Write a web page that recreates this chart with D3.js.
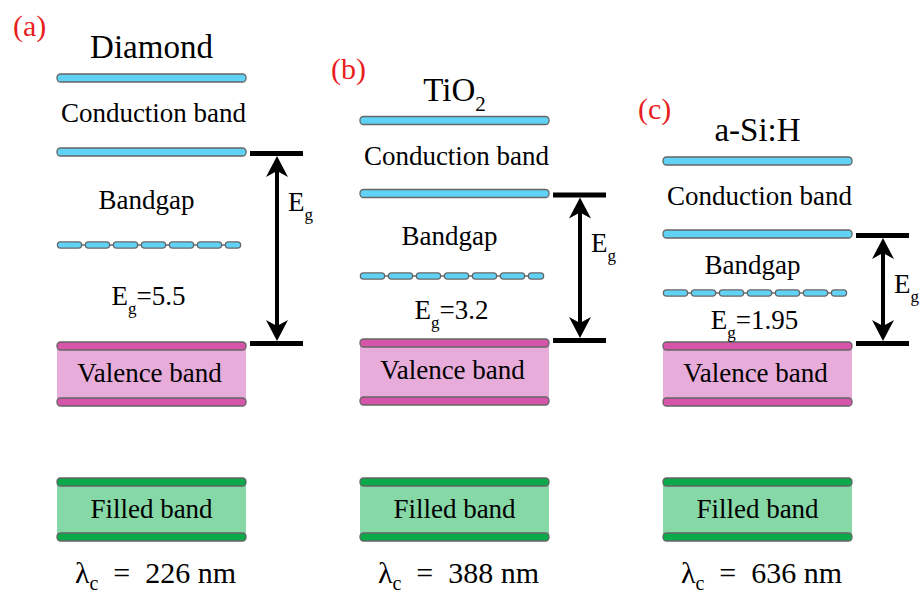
<!DOCTYPE html>
<html>
<head>
<meta charset="utf-8">
<script src="https://cdn.jsdelivr.net/npm/d3@7"></script>
<style>
  body { margin: 0; background: #fff; }
</style>
</head>
<body>
<div id="chart"></div>
<script>
const panelLabels = ["(a)", "(b)", "(c)"];
const materials = ["Diamond", "TiO", "a-Si:H"];
const materialSubs = ["", "2", ""];
const bandgapEV = ["5.5", "3.2", "1.95"];
const cutoffNm = [226, 388, 636];
// level positions on a schematic energy axis (arbitrary units, valence edge ~ 0)
const cbTop = [26.6, 22.35, 18.3];
const cbEdge = [19.2, 15.05, 11.0];
const gapLevel = [9.9, 6.8, 5.1];
const vbEdge = [-0.2, 0.1, -0.2];
const vbBottom = [-5.8, -5.7, -5.8];
const fbTop = [-13.8, -13.8, -13.8];
const fbBottom = [-19.3, -19.3, -19.3];

const width = 921, height = 593;
const font = "'Liberation Serif', 'Times New Roman', serif";
const barW = 189, barH = 8;

const x = d3.scaleBand().domain(d3.range(3)).range([57, 57 + 3 * 303]).paddingInner(0);
const y = d3.scaleLinear().domain([0, 10]).range([344, 244]);

const svg = d3.select("#chart").append("svg")
  .attr("width", width)
  .attr("height", height)
  .attr("font-family", font);

const panels = d3.range(3).map(i => ({
  i,
  label: panelLabels[i],
  material: materials[i],
  sub: materialSubs[i],
  eg: bandgapEV[i],
  lc: cutoffNm[i],
  cbTop: cbTop[i], cbEdge: cbEdge[i], gap: gapLevel[i],
  vbEdge: vbEdge[i], vbBottom: vbBottom[i],
  fbTop: fbTop[i], fbBottom: fbBottom[i]
}));

const g = svg.selectAll("g.panel")
  .data(panels)
  .join("g")
  .attr("class", "panel")
  .attr("transform", d => `translate(${x(d.i)},0)`);

const cx = barW / 2;

// filled band areas
g.append("rect")
  .attr("x", 0).attr("width", barW)
  .attr("y", d => y(d.vbEdge)).attr("height", d => y(d.vbBottom) - y(d.vbEdge))
  .attr("fill", "#e8acda");
g.append("rect")
  .attr("x", 0).attr("width", barW)
  .attr("y", d => y(d.fbTop)).attr("height", d => y(d.fbBottom) - y(d.fbTop))
  .attr("fill", "#86d8a7");

function bar(sel, level, fill) {
  sel.append("rect")
    .attr("x", 0).attr("width", barW)
    .attr("y", d => y(d[level]) - barH / 2).attr("height", barH)
    .attr("rx", 3.5)
    .attr("fill", fill)
    .attr("stroke", "#666")
    .attr("stroke-width", 1.3);
}
bar(g, "cbTop", "#5fd2f5");
bar(g, "cbEdge", "#5fd2f5");
bar(g, "vbEdge", "#d655aa");
bar(g, "vbBottom", "#d655aa");
bar(g, "fbTop", "#0aaa4b");
bar(g, "fbBottom", "#0aaa4b");

// dashed mid-gap level
g.append("line")
  .attr("x1", 3).attr("x2", 181)
  .attr("y1", d => y(d.gap)).attr("y2", d => y(d.gap))
  .attr("stroke", "#666").attr("stroke-width", 1.5);
g.append("line")
  .attr("x1", 3.5).attr("x2", 180.5)
  .attr("y1", d => y(d.gap)).attr("y2", d => y(d.gap))
  .attr("stroke", "#666").attr("stroke-width", 7.5)
  .attr("stroke-linecap", "round")
  .attr("stroke-dasharray", "18 10");
g.append("line")
  .attr("x1", 3.5).attr("x2", 180.5)
  .attr("y1", d => y(d.gap)).attr("y2", d => y(d.gap))
  .attr("stroke", "#5fd2f5").attr("stroke-width", 5)
  .attr("stroke-linecap", "round")
  .attr("stroke-dasharray", "18 10");

// Eg arrow and level markers
const ax = barW + 31;
const topY = d => y(d.cbEdge) + 1.5;
const botY = d => y(d.vbEdge) - 2.5;
g.append("line")
  .attr("x1", barW + 4).attr("x2", barW + 57)
  .attr("y1", topY).attr("y2", topY)
  .attr("stroke", "#000").attr("stroke-width", 5);
g.append("line")
  .attr("x1", barW + 4).attr("x2", barW + 57)
  .attr("y1", botY).attr("y2", botY)
  .attr("stroke", "#000").attr("stroke-width", 5);
g.append("line")
  .attr("x1", ax).attr("x2", ax)
  .attr("y1", d => topY(d) + 12).attr("y2", d => botY(d) - 12)
  .attr("stroke", "#000").attr("stroke-width", 4);
g.append("path")
  .attr("d", d => {
    const t = topY(d) + 2.5;
    return `M${ax},${t} L${ax + 11},${t + 21} L${ax},${t + 15} L${ax - 11},${t + 21} Z`;
  })
  .attr("fill", "#000");
g.append("path")
  .attr("d", d => {
    const t = botY(d) - 2.5;
    return `M${ax},${t} L${ax + 11},${t - 21} L${ax},${t - 15} L${ax - 11},${t - 21} Z`;
  })
  .attr("fill", "#000");

const egLabel = g.append("text")
  .attr("x", ax + 11)
  .attr("y", d => topY(d) + 57)
  .attr("font-size", 27)
  .text("E");
egLabel.append("tspan").attr("font-size", 17).attr("dy", 9).text("g");

// panel labels
g.append("text")
  .attr("x", d => d.i === 0 ? -44 : d.i === 1 ? -29 : -25)
  .attr("y", d => y(d.cbTop) - 42)
  .attr("font-size", 30)
  .attr("fill", "#e81e1e")
  .text(d => d.label);

// material titles
const title = g.append("text")
  .attr("x", cx)
  .attr("y", d => y(d.cbTop) - 20)
  .attr("text-anchor", "middle")
  .attr("font-size", 33)
  .text(d => d.material);
title.filter(d => d.sub).append("tspan")
  .attr("font-size", 21).attr("dy", 10)
  .text(d => d.sub);

g.append("text")
  .attr("x", cx + 2)
  .attr("y", d => y(d.cbTop) + 44)
  .attr("text-anchor", "middle")
  .attr("font-size", 27)
  .text("Conduction band");

g.append("text")
  .attr("x", cx - 5)
  .attr("y", d => (y(d.cbEdge) + y(d.gap)) / 2 + 10)
  .attr("text-anchor", "middle")
  .attr("font-size", 27)
  .text("Bandgap");

const egVal = g.append("text")
  .attr("x", cx - 3)
  .attr("y", d => (y(d.gap) + y(d.vbEdge)) / 2 + 9)
  .attr("text-anchor", "middle")
  .attr("font-size", 27)
  .text("E");
egVal.append("tspan").attr("font-size", 17).attr("dy", 9).text("g");
egVal.append("tspan").attr("dy", -9).text(d => "=" + d.eg);

g.append("text")
  .attr("x", cx - 2)
  .attr("y", d => y(d.vbEdge) + 36)
  .attr("text-anchor", "middle")
  .attr("font-size", 27)
  .text("Valence band");

g.append("text")
  .attr("x", cx)
  .attr("y", d => y(d.fbTop) + 36)
  .attr("text-anchor", "middle")
  .attr("font-size", 27)
  .text("Filled band");

const lam = g.append("text")
  .attr("x", cx + 4)
  .attr("y", 583)
  .attr("text-anchor", "middle")
  .attr("font-size", 30)
  .text("\u03bb");
lam.append("tspan").attr("font-size", 20).attr("dy", 7).text("c");
lam.append("tspan").attr("dy", -7).text(d => "\u2002=\u2002" + d.lc + " nm");
</script>
</body>
</html>
